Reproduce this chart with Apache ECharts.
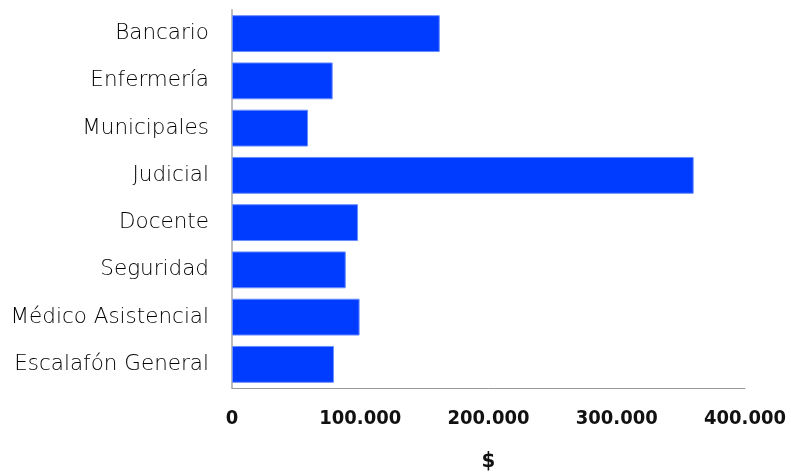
<!DOCTYPE html>
<html><head><meta charset="utf-8">
<script src="https://cdn.jsdelivr.net/npm/echarts@6/dist/echarts.min.js"></script>
<style>html,body{margin:0;padding:0;background:#fff}#c{width:791px;height:474px}</style>
</head><body><div id="c"></div>
<script>
const categories = ['Bancario','Enfermería','Municipales','Judicial','Docente','Seguridad','Médico Asistencial','Escalafón General'];
const values = [162000, 78500, 59300, 360000, 98300, 88700, 99500, 79500];
const xTicks = [0, 100000, 200000, 300000, 400000];

const chart = echarts.init(document.getElementById('c'));
chart.setOption({
  animation: false,
  grid: {left: 232, right: 46, top: 10, bottom: 86, containLabel: false, outerBoundsMode: 'none'},
  xAxis: {
    type: 'value', min: xTicks[0], max: xTicks[xTicks.length-1], interval: 100000,
    name: '$', nameLocation: 'middle', nameGap: 62,
    nameTextStyle: {fontFamily: 'DejaVu Sans Condensed', fontWeight: 'bold', fontSize: 22, color: '#111'},
    axisLine: {show: true, lineStyle: {color: '#9a9a9a', width: 1}},
    axisTick: {show: false},
    splitLine: {show: false},
    axisLabel: {
      margin: 21, fontFamily: 'DejaVu Sans Condensed', fontWeight: 'bold', fontSize: 20, color: '#111',
      formatter: v => v === 0 ? '0' : v.toString().replace(/\B(?=(\d{3})+(?!\d))/g, '.')
    }
  },
  yAxis: {
    type: 'category', data: categories, inverse: true,
    axisLine: {show: true, lineStyle: {color: '#bdbdbd', width: 2}},
    axisTick: {show: false},
    axisLabel: {margin: 23, fontFamily: 'DejaVu Sans', fontWeight: 300, fontSize: 21.5, color: '#000'}
  },
  series: [{
    type: 'bar', data: values, barCategoryGap: '22%',
    itemStyle: {color: '#003cff', borderColor: '#6a8dff', borderWidth: 1}
  }]
});
</script></body></html>
